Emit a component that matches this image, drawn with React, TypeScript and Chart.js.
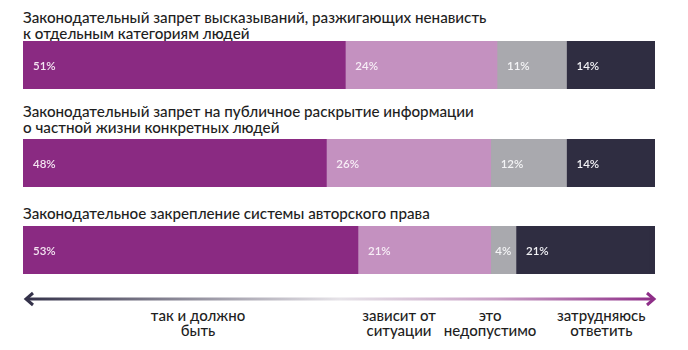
import React, { useEffect, useRef } from "react";
import { Chart, registerables } from "chart.js";

Chart.register(...registerables);

const titles: string[][] = [
  ["Законодательный запрет высказываний, разжигающих ненависть", "к отдельным категориям людей"],
  ["Законодательный запрет на публичное раскрытие информации", "о частной жизни конкретных людей"],
  ["Законодательное закрепление системы авторского права"],
];
const categories: string[][] = [
  ["так и должно", "быть"],
  ["зависит от", "ситуации"],
  ["это", "недопустимо"],
  ["затрудняюсь", "ответить"],
];
const shouldBe = [51, 48, 53];
const depends = [24, 26, 21];
const unacceptable = [11, 12, 4];
const hardToSay = [14, 14, 21];
const colors = ["#8a2a82", "#c491c0", "#a9a9ae", "#2f2d41"];
const labelColors = ["#f4e6f2", "#f7eef6", "#f4f4f6", "#f2f2f6"];

const series = [shouldBe, depends, unacceptable, hardToSay];

const FONT = "Lato, 'Open Sans', sans-serif";

const labelPlugin = {
  id: "segLabels",
  beforeDatasetsDraw(chart: any) {
    const { ctx, chartArea } = chart;
    ctx.save();
    ctx.fillStyle = colors[3];
    ctx.fillRect(chartArea.left, chartArea.top, chartArea.right - chartArea.left, chartArea.bottom - chartArea.top);
    ctx.restore();
  },
  afterDatasetsDraw(chart: any) {
    const { ctx } = chart;
    ctx.save();
    ctx.font = `600 11.5px ${FONT}`;
    ctx.textBaseline = "middle";
    ctx.textAlign = "left";
    chart.data.datasets.forEach((ds: any, i: number) => {
      const meta = chart.getDatasetMeta(i);
      meta.data.forEach((bar: any, j: number) => {
        const v = ds.data[j];
        const txt = `${v}%`;
        const left = Math.min(bar.base, bar.x);
        const w = Math.abs(bar.x - bar.base);
        const tw = ctx.measureText(txt).width;
        const off = Math.max(3, Math.min(10, (w - tw) / 2));
        ctx.fillStyle = labelColors[i];
        ctx.fillText(txt, left + off, bar.y + 1);
      });
    });
    ctx.restore();
  },
};

function BarRow({ row }: { row: number }) {
  const ref = useRef<HTMLCanvasElement>(null);
  useEffect(() => {
    if (!ref.current) return;
    const chart = new Chart(ref.current, {
      type: "bar",
      data: {
        labels: [""],
        datasets: series.map((s, i) => ({
          label: categories[i].join(" "),
          data: [s[row]],
          backgroundColor: colors[i],
          borderWidth: 0,
          barPercentage: 1,
          categoryPercentage: 1,
        })),
      },
      options: {
        indexAxis: "y",
        responsive: false,
        animation: false,
        layout: { padding: 0 },
        plugins: { legend: { display: false }, tooltip: { enabled: false } },
        scales: {
          x: { stacked: true, min: 0, max: 100, display: false },
          y: { stacked: true, display: false },
        },
      },
      plugins: [labelPlugin],
    } as any);
    return () => chart.destroy();
  }, [row]);
  return <canvas ref={ref} width={632} height={48} style={{ display: "block" }} />;
}

const rowTop = [9, 103, 205];
const barTop = [41, 139, 226];
const legendCenters = [27.7, 59.5, 73.9, 91.5];

export default function App() {
  return (
    <div
      style={{
        position: "absolute",
        left: 0,
        top: 0,
        width: 688,
        height: 350,
        background: "#fff",
        fontFamily: FONT,
        overflow: "hidden",
      }}
    >
      {titles.map((lines, r) => (
        <div
          key={"t" + r}
          style={{
            position: "absolute",
            left: 23,
            top: rowTop[r],
            fontSize: 15.2,
            lineHeight: "16px",
            color: "#1e1e1e",
            fontWeight: 500,
            whiteSpace: "nowrap",
          }}
        >
          {lines.map((l, k) => (
            <div key={k}>{l}</div>
          ))}
        </div>
      ))}
      {titles.map((_, r) => (
        <div key={"b" + r} style={{ position: "absolute", left: 23, top: barTop[r] }}>
          <BarRow row={r} />
        </div>
      ))}
      <svg width={688} height={20} style={{ position: "absolute", left: 0, top: 289 }}>
        <defs>
          <linearGradient id="ag" x1="0" x2="1" y1="0" y2="0">
            <stop offset="0" stopColor="#34324a" />
            <stop offset="0.5" stopColor="#e6e3e8" />
            <stop offset="0.75" stopColor="#c9a0c6" />
            <stop offset="1" stopColor="#8e2e88" />
          </linearGradient>
        </defs>
        <rect x={26} y={8.5} width={627} height={3} fill="url(#ag)" />
        <polyline points="33,4 26,10 33,16" fill="none" stroke="#34324a" strokeWidth={3} strokeLinejoin="miter" />
        <polyline points="647,4 654,10 647,16" fill="none" stroke="#8e2e88" strokeWidth={3} strokeLinejoin="miter" />
      </svg>
      {categories.map((lines, i) => (
        <div
          key={"l" + i}
          style={{
            position: "absolute",
            left: 23 + (632 * legendCenters[i]) / 100 - 60,
            width: 120,
            top: 308,
            textAlign: "center",
            fontSize: 15,
            lineHeight: "15px",
            color: "#1e1e1e",
            fontWeight: 500,
          }}
        >
          {lines.map((l, k) => (
            <div key={k}>{l}</div>
          ))}
        </div>
      ))}
    </div>
  );
}
